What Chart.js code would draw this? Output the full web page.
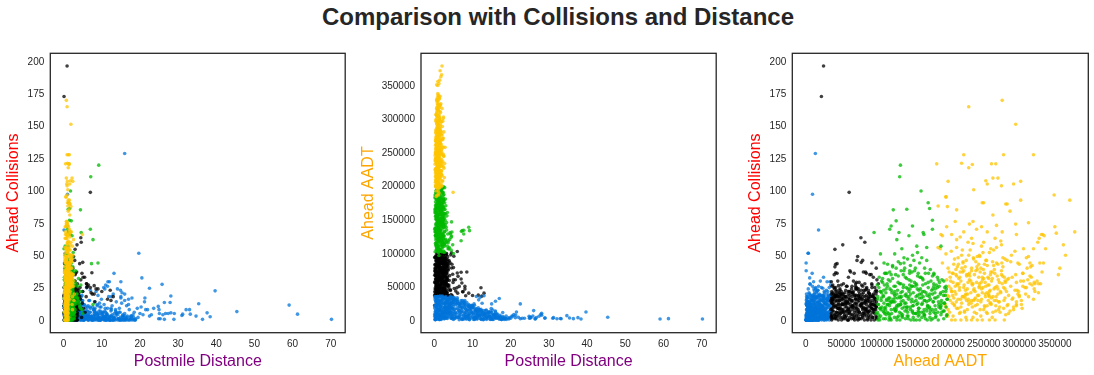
<!DOCTYPE html>
<html>
<head>
<meta charset="utf-8">
<title>Comparison with Collisions and Distance</title>
<script src="https://cdn.jsdelivr.net/npm/chart.js@4/dist/chart.umd.js"></script>
<style>
    html, body { margin: 0; padding: 0; background: #fff; }
    body { position: relative; width: 1094px; height: 375px; overflow: hidden; }
    #title { position: absolute; left: 0; top: 2px; width: 1116px; text-align: center;
             font: bold 24px "Liberation Sans", sans-serif; color: #262626; line-height: 30px; }
    canvas { position: absolute; top: 0; }
</style>
</head>
<body>
<div id="title">Comparison with Collisions and Distance</div>
<canvas id="chart1" width="347" height="375" style="left:0px"></canvas>
<canvas id="chart2" width="363" height="375" style="left:355px"></canvas>
<canvas id="chart3" width="350" height="375" style="left:742px"></canvas>
<script>
const distTicks = [0, 10, 20, 30, 40, 50, 60, 70];
const collTicks = [0, 25, 50, 75, 100, 125, 150, 175, 200];
const aadtTicks = [0, 50000, 100000, 150000, 200000, 250000, 300000, 350000];

const blueDist = [
    0.2,2.6,0.9,3.4,1.6,4.4,0.5,2.0,1.2,3.0,
    3.1,0.3,2.8,1.0,3.6,1.7,4.7,0.6,2.2,1.3,
    1.4,3.3,0.1,2.5,1.1,3.9,1.9,5.0,0.7,2.4,
    2.7,1.5,3.7,0.4,2.9,0.8,4.1,1.8,4.9,0.2,
    0.6,2.3,1.2,4.0,0.3,3.2,1.0,4.5,2.1,5.2,
    4.3,0.8,2.1,1.4,3.5,0.1,2.7,0.9,3.8,1.6,
    1.8,4.6,0.5,2.2,1.3,3.0,0.3,2.6,1.1,4.2,
    3.4,1.2,4.8,0.7,2.4,1.5,3.6,0.4,2.9,0.9,
    0.4,3.6,1.7,4.4,0.9,2.8,1.4,3.1,0.2,2.0,
    2.2,0.6,3.0,1.9,4.1,0.5,2.3,1.2,3.3,0.8,
    1.1,2.9,0.3,3.5,0.7,1.6,4.0,0.5,1.9,2.6,
    5.2,5.6,6.1,6.5,7.0,5.4,5.9,6.3,6.8,7.3,
    7.5,7.9,8.3,8.8,9.2,7.7,8.1,8.6,9.0,9.5,
    9.7,10.1,10.6,11.0,11.5,9.9,10.4,10.8,11.3,11.8,
    12.0,12.4,12.9,13.3,13.8,12.2,12.7,13.1,13.6,14.1,
    14.3,14.8,15.2,15.7,16.1,14.6,15.0,15.5,16.0,16.5,
    16.8,17.2,17.6,18.0,18.5,17.0,17.4,18.2,18.8,19.3,
    10.5,11.0,11.6,12.0,11.5,10.8,12.5,13.0,14.9,15.3,
    15.0,16.0,16.0,17.0,17.9,5.0,6.0,7.0,8.5,9.0,
    70.2,61.3,59.1,45.4,39.7,38.4,37.6,36.4,35.4,34.7,
    33.2,33.0,32.1,31.2,31.0,29.0,28.9,28.1,28.1,27.9,
    27.4,26.7,26.4,26.4,26.0,25.8,25.3,25.1,24.9,24.8,
    25.0,23.6,23.0,22.5,22.5,22.0,21.5,21.3,21.2,20.5,
    20.0,20.3,19.7,19.5,20.8,16.0,15.0,13.2,1.0,0.1,
    0.4,0.2,0.3,0.8,0.5,0.6,0.3,0.9,1.1,1.5,
    3.5,4.2,5.0,5.8,6.6,7.4,8.2,9.0,9.8,10.6,
    11.4,12.2,13.0,13.8,14.6,15.4,16.2,4.6,5.4,6.2,
    7.0,7.8,8.6,9.4,10.2,11.0,11.8,12.6,13.4,14.2,
    15.0,15.8,16.6,17.4,3.8,4.8,5.6,6.4,7.2,8.0,
    8.8,9.6,10.4,11.2,12.0,12.8,13.6,14.4,15.2,16.0,
    5.2,6.0,6.8,7.6,8.4,9.2,10.0,10.8,11.6,12.4,
    3.2,4.0,4.4,5.0,5.4,6.6,7.3,8.1,9.3,10.3,
    2.5,3.6,3.0,4.3,2.8,3.4,4.6,3.9,4.1,5.3,
    6.5,7.8,9.1,11.1,13.2,14.7,16.4,17.8,18.4,18.9,
    0.2,0.4,0.7,1.0,1.3,1.6,2.0,2.3,2.7,3.0,
    5.6,6.9,8.2,9.5,10.9,12.3,13.9,15.6,6.1,7.7,
    3.0,4.0,5.0,6.0,7.0,8.0,9.0,10.0,11.0,12.0,
    3.1,3.5,3.9,4.3,4.7,5.1,5.5,5.9,6.3,6.7,
    7.1,7.5,7.9,8.3,8.7,9.1,9.5,9.9,10.3,10.7,
    11.1,11.5,11.9,12.3,12.7,13.1,13.5,13.9,14.3,14.7,
    3.3,3.7,4.1,4.5,4.9,5.3,5.7,6.1,6.5,6.9,
    7.3,7.7,8.1,8.5,8.9,9.3,9.7,10.1,10.5,10.9,
    11.3,11.7,12.1,12.5,12.9,13.3,13.7,14.1,14.5,14.9,
    15.1,15.5,15.9,16.3,16.7,17.1,17.5,17.9,18.3,18.7,
    4.0,4.8,5.6,6.4,7.2,8.0,8.8,9.6,10.4,11.2,
    5.0,5.8,6.6,7.4,8.2,9.0,9.8,10.6,11.4,12.2,
    0.3,0.8,1.3,1.8,2.3,2.8,3.3,3.8,4.3,4.8,
    0.5,1.0,1.5,2.0,2.5,3.0,3.5,4.0,4.5,5.0,
    0.6,1.1,1.6,2.1,2.6,3.1,3.6,4.1,4.6,0.3,
    0.7,1.2,1.7,2.2,2.7,3.2,3.7,4.2,0.4,0.9,
    1.4,1.9,2.4,2.9,3.4,3.9,4.4,4.9,0.2,0.6,
    1.0,1.5,2.0,2.5,3.0,3.5,4.0,4.5,0.1,2.1
];
const blueColl = [
    0,0,1,0,0,1,0,0,1,0,
    2,1,2,3,1,2,2,1,3,2,
    4,3,4,3,5,4,3,4,3,4,
    6,5,6,5,6,7,5,6,5,6,
    8,7,8,9,7,8,7,8,9,7,
    10,9,10,11,9,10,11,9,10,9,
    12,11,12,13,11,12,11,13,12,11,
    14,13,15,14,13,14,15,13,14,13,
    16,17,15,16,17,16,15,16,17,15,
    18,19,18,17,19,18,19,17,18,16,
    20,21,19,20,22,20,19,21,20,18,
    2,6,1,4,9,12,3,7,15,2,
    1,8,3,11,5,0,14,6,2,10,
    0,6,12,3,9,16,1,7,4,18,
    2,9,0,5,14,3,11,1,7,24,
    1,6,13,3,0,9,17,2,5,11,
    0,8,3,1,6,12,2,4,0,9,
    25,27,29.5,29.5,26,24,18,20,23,21,
    18,20,15,16,17,22,25,23,22,19,
    0.5,4.5,11.5,6.5,22.5,2.5,5.5,0.5,12.5,3,
    4.5,8,8,4.5,3.5,5,0.5,18.5,5.5,13.5,
    5,5,13.5,0.5,4,27.5,1,5,1,10.5,
    8,9,4,24.5,3,8,8,17,14,32.5,
    5,10,51.5,2,4,128.5,29.5,36,97,69.5,
    51.5,44,38,33,30,28,26,25,24,23,
    3,12,6,1,15,0,9,2,5,1,
    4,0,2,6,0,3,1,18,0,10,
    2,8,0,13,1,6,0,3,1,4,
    1,0,2,0,16,3,11,4,0,5,
    1,7,3,0,2,0,8,1,0,3,
    0,2,6,10,1,0,4,0,1,7,
    0,1,0,2,4,0,3,0,2,5,
    0,0,1,0,2,1,4,1,7,0,
    0,1,0,3,0,0,1,3,0,1,
    6,2,10,14,7,17,4,11,8,18,
    1,2,4,0,2,0,5,0,2,1,
    5,3,2,1,6,3,2,1,0,0,
    0,2,1,4,0,3,1,5,0,2,
    1,0,3,1,5,0,2,1,6,2,
    0,3,1,0,4,2,0,5,1,0,
    4,1,6,2,8,0,3,7,1,10,
    3,0,8,1,4,7,0,2,0,9,
    5,1,0,8,0,1,3,0,6,2,
    0,4,1,0,3,0,1,0,2,0,
    9,13,5,11,2,7,12,0,3,1,
    15,9,3,1,6,4,10,1,0,2,
    1,3,5,7,9,11,13,15,17,19,
    12,14,16,18,2,4,6,8,10,12,
    19,3,11,13,15,17,0,2,12,8,
    8,10,14,16,18,6,9,7,13,15,
    18,20,16,12,14,10,4,0,5,7,
    9,15,13,17,19,16,12,6,11,2
];
const blueAadt = [
    900,4300,7800,11500,15200,18700,22300,25900,29400,33000,
    2500,6100,9700,13200,16900,20400,24100,27700,31300,35200,
    600,4800,8200,11900,15600,19300,22800,26500,30100,33900,
    2100,5700,9300,12900,16500,20100,23700,27300,30800,34400,
    1100,4500,8000,11700,15300,18900,22500,26200,29800,33400,
    2800,6400,10000,13600,17200,20800,24400,28000,31600,35600,
    800,4200,7700,11300,15000,18600,22100,25800,29300,33200,
    2300,5900,9500,13100,16700,20300,23900,27500,31100,34800,
    1300,4900,8500,12100,15700,19500,23100,26700,30300,33700,
    2700,6300,9900,13500,17100,20700,24300,27900,31500,35000,
    1000,4600,8100,11800,15400,19000,22600,26300,29900,33300,
    15000,3000,28000,9000,21000,31000,6000,24000,12000,18000,
    12000,23000,2000,17000,7000,26000,4500,14500,9500,19500,
    9500,18000,1500,13500,5500,21000,3500,11500,7500,15500,
    7000,14000,1000,10000,4000,16000,2500,8500,5500,11500,
    5500,11000,800,8000,3000,13000,2000,6500,4000,9000,
    3500,7000,600,5000,2000,1200,4200,2500,6000,3000,
    22000,35000,30000,34000,18000,14000,25000,36000,17000,15000,
    24000,12000,28000,32000,11000,31000,33000,29000,26000,20000,
    1500,2000,1500,4000,12000,1500,3500,2000,3000,6500,
    1800,2200,1800,3500,2500,3000,2800,10000,7000,8500,
    5500,3500,2000,1500,14000,6000,3500,4500,2500,5500,
    3000,2500,2500,24000,1800,4000,12000,7500,3500,5500,
    2500,6000,3500,1500,8000,13500,11000,9000,9500,18000,
    3500,500,600,25000,20500,6000,9500,14000,3500,17000,
    26000,12000,30000,4000,20000,1000,16000,8000,22000,3000,
    11000,1500,14000,5000,800,7500,2500,18000,8000,25000,
    3000,27000,6000,19000,1000,16000,5000,9000,2000,12000,
    1500,9000,4500,2000,32000,6000,23000,14000,1000,29000,
    4000,12000,24000,2000,8500,500,15000,6000,2500,5000,
    2000,11000,17000,7000,13000,500,21000,4000,12500,6500,
    9000,15000,3000,23000,11000,6000,19000,10000,15500,8000,
    5000,18000,24000,7500,29000,13000,33000,21000,28000,16000,
    500,1500,3000,7000,10000,3500,6500,1500,3000,1000,
    12000,21000,29000,16000,5000,25000,10000,33000,19000,13500,
    30000,24000,21000,18000,15000,12500,9500,8000,27500,22500,
    35000,34000,33000,31000,26500,25000,23000,19000,17000,14000,
    14000,31000,6000,22000,2000,27000,10000,18000,4000,24000,
    12000,2500,19000,8000,22000,1000,15000,5000,18000,9000,
    3500,13000,7000,1000,11000,5000,14000,2500,8500,1500,
    28000,11000,20000,33000,13000,5000,29000,16000,21000,8000,
    25000,6500,16500,1500,12500,21500,3500,10000,700,14000,
    9500,15500,2000,12000,6000,8000,1000,11000,5000,3500,
    7000,1000,4000,9000,2500,5500,1200,3500,700,2200,
    9000,17000,26000,3500,14500,11000,6000,17500,13000,1500,
    1000,24000,13500,29000,5000,20000,12000,4000,7500,10500,
    3000,7000,11000,15000,19000,23000,27000,31000,35000,26000,
    21000,25000,30000,34000,2000,6000,9500,13000,17000,20000,
    32000,28000,1500,5500,10500,14500,18500,22500,8000,35000,
    19000,23500,3500,7500,12500,16500,20500,24500,28500,32500,
    1200,5200,9200,13200,17200,21200,25200,29200,33200,10200,
    3800,7800,11800,15800,19800,23800,27800,31800,5200,35500
];

const greenDist = [
    0.2,1.2,2.3,0.6,1.7,2.8,0.9,2.0,0.4,1.4,2.5,0.7,1.9,
    1.4,2.5,0.7,1.9,0.3,1.1,2.2,0.5,1.6,2.7,0.8,2.1,1.0,
    2.7,0.8,2.1,1.0,0.2,1.3,2.4,0.6,1.8,0.3,1.2,2.3,0.6,
    0.5,1.6,3.0,0.9,2.0,0.4,1.4,2.6,0.7,1.9,0.2,1.1,2.2,
    1.8,3.4,1.2,2.3,0.6,1.7,2.8,0.9,2.0,0.4,1.4,2.5,0.7,
    3.8,0.3,1.1,2.2,0.5,1.6,2.7,0.8,2.1,1.0,0.2,1.3,2.4,
    1.1,2.2,3.2,1.6,2.7,0.8,2.1,1.0,0.2,1.3,2.4,0.6,1.8,
    0.8,2.1,1.0,3.5,1.3,2.4,0.6,1.8,0.3,1.2,2.3,0.6,1.7,
    2.4,0.6,1.8,0.3,1.2,2.3,0.6,1.7,2.8,0.9,2.0,0.4,1.4,
    0.9,2.0,0.4,1.4,2.5,0.7,1.9,0.2,1.1,2.2,0.5,1.6,2.7,
    1.6,0.5,2.9,1.3,0.8,2.1,1.0,1.7,0.2,1.4,2.4,0.6,1.2,
    9.2,7.1,1.8,1.3,1.6,1.5,4.4,1.2,0.9,7.0,
    2.0,4.6,7.7,1.2,0.8,2.2,1.4,1.0,2.5,1.7,
    9.0,7.3,7.7,4.5,3.2,4.2,4.5,4.0,3.6,4.8,
    3.9,4.4,3.4,5.0,3.0,3.3,2.9,3.7,3.1,4.1,
    1.0,2.1,0.5,1.6,2.4,0.8,1.3,0.1,2.0,1.1,
    1.7,0.4,2.2,1.2,0.7,1.9,1.4,0.9,2.3,0.5,
    2.6,1.5,0.5,1.1,2.0,0.7,1.6,2.4,1.0,0.4,
    0.7,1.8,0.4,2.2,1.1,0.6,1.6,0.3,2.4,1.0,
    1.5,0.8,2.0,0.5,1.3,2.6,0.9,1.7,0.4,1.2,
    2.1,0.6,1.4,0.9,2.4,1.0,1.9,0.3,1.5,0.7,
    2.2,1.1,0.5,1.8,0.8,1.3,0.4,1.6,0.7,2.3,
    1.0,0.2,1.5,0.9,2.0,0.6,1.2,1.7,0.5,1.1,
    0.6,1.4,2.1,0.4,1.0,1.8,0.7,1.3,0.9,1.5,
    1.3,0.4,1.9,0.8,1.1,2.0,0.5,1.6,1.0,0.3,
    2.7,1.0,0.3,1.6,2.3,0.8,1.4,0.6,1.7,1.2,
    0.9,1.6,0.5,2.4,1.2,0.3,1.8,0.7,1.1,0.2,
    3.6,3.0,2.6,3.2,2.8,2.4,2.9,2.5,2.3,2.1,
    1.5,0.8,2.1,1.2,0.4,1.9,0.7,2.5,1.1,1.6,
    0.6,1.3,1.8,0.9,2.2,1.5,0.3,1.7,0.8,2.4,
    1.4,2.0,0.7,1.1,1.6,1.9,0.5,1.3,2.3,0.9,
    0.4,1.5,2.2,1.0,0.6,1.8,2.1,1.3,0.7,2.6
];
const greenColl = [
    0,1,0,2,0,1,0,0,2,0,1,0,1,
    3,4,5,2,4,3,5,4,3,5,2,4,3,
    6,7,5,8,6,7,8,5,6,7,8,6,7,
    9,10,8,11,9,10,11,9,8,10,11,9,10,
    12,13,11,14,12,13,14,12,13,11,14,12,13,
    15,16,14,17,15,16,14,17,15,16,17,15,16,
    18,19,17,20,18,19,20,18,17,19,20,18,19,
    22,21,23,20,22,24,21,23,22,20,24,21,22,
    25,27,24,26,28,25,26,24,27,25,28,26,25,
    30,28,32,29,27,31,29,33,28,30,27,31,26,
    33,36,30,35,38,32,37,34,31,36,35,29,30,
    119.5,110.5,99.5,90.5,86,77,85,85.5,72.5,70,
    76.5,67.5,62,67.5,72.5,65,67.5,70,52,66,
    44,43.5,12,27,18,10,22,14,26,8,
    32,9,20,5,14,28,6,17,38,12,
    51,44,43,37,41,51,45,55,40,47,
    42,50,38,57,44,48,40,56,39,36,
    36,35,40,35,38,46,36,36,33,57,
    2,5,1,8,3,6,2,9,4,7,
    3,6,10,12,14,11,13,10,15,12,
    11,14,10,13,16,18,15,19,17,20,
    16,19,18,15,17,20,16,22,24,21,
    23,25,22,26,24,21,23,25,22,27,
    29,31,26,28,33,30,27,32,29,26,
    0,1,0,0,2,1,0,0,1,0,
    6,4,7,5,8,6,7,4,9,5,
    36,42,34,48,36,40,33,46,34,31,
    17,12,9,14,18,7,3,22,11,19,
    4,9,13,7,18,3,11,6,15,2,
    8,13,4,21,6,16,3,10,24,5,
    20,9,24,14,7,12,23,2,17,21,
    10,26,13,6,18,21,10,24,8,15
];
const greenAadt = [
    101500,109200,116900,124600,132300,140000,147700,155400,163100,170800,178500,186200,193900,
    105300,113000,120700,128400,136100,143800,151500,159200,166900,174600,182300,190000,197700,
    100800,108600,116200,124100,131700,139400,147200,154700,162500,170100,177900,185600,193200,
    104700,112300,120100,127800,135500,143200,150900,158600,166300,174000,181700,189400,197100,
    102200,109900,117600,125300,133000,140700,148400,156100,163800,171500,179200,186900,194600,
    106000,113700,121400,129100,136800,144500,152200,159900,167600,175300,183000,190700,198400,
    101100,108800,116500,124200,131900,139600,147300,155000,162700,170400,178100,185800,193500,
    104900,112600,120300,128000,135700,143400,151100,158800,166500,174200,181900,189600,196800,
    102800,110500,118200,125900,133600,141300,149000,156700,164400,172100,179800,187500,195200,
    106600,114300,122000,129700,137400,145100,152800,160500,168200,175900,183600,191300,197000,
    103200,110900,118600,126300,134000,141700,149400,157100,164800,172500,180200,187900,194000,
    133000,132000,162000,172000,174000,178000,123000,142000,120000,118000,
    127000,131000,128000,96000,150000,145000,165000,178000,157000,166000,
    138000,133000,133500,146000,145000,128000,125000,120000,115000,112000,
    108000,104000,160000,99000,170000,155000,180000,118000,138000,130000,
    105000,110000,115000,118000,122000,125000,130000,135000,139000,143000,
    147000,150000,153000,156000,160000,163000,167000,170000,175000,180000,
    112000,120000,127000,137000,146000,152000,158000,168000,185000,190000,
    103000,111000,119000,127000,135000,143000,151000,159000,167000,175000,
    183000,191000,107000,115000,123000,131000,139000,147000,155000,163000,
    171000,179000,187000,195000,101000,109000,117000,125000,133000,141000,
    149000,157000,165000,173000,181000,189000,199000,105000,113000,121000,
    129000,137000,145000,153000,161000,169000,177000,185000,193000,100500,
    108000,116000,124000,132000,140000,148000,156000,164000,172000,180000,
    104000,112000,120000,128000,136000,144000,152000,160000,168000,176000,
    110000,118000,126000,134000,142000,150000,158000,166000,174000,182000,
    114000,122000,130000,138000,146000,154000,162000,170000,178000,186000,
    106000,115000,125000,134000,142000,150000,158000,164000,190000,196000,
    102500,110500,118500,126500,134500,142500,150500,158500,166500,174500,
    182500,190500,198500,106500,114500,122500,130500,138500,146500,154500,
    162500,170500,178500,186500,194500,101500,109500,117500,125500,133500,
    141500,149500,157500,165500,173500,181500,189500,197500,105500,113500
];

const blackDist = [
    0.1,1.4,2.6,0.6,1.9,3.1,0.9,2.3,0.3,1.6,2.9,0.7,2.0,1.1,
    2.9,0.7,2.0,1.1,0.2,1.3,2.7,0.5,1.8,3.2,1.0,2.4,0.4,1.5,
    1.0,2.4,0.4,1.5,2.8,0.8,2.1,1.2,0.1,1.5,2.5,0.6,1.9,3.0,
    2.5,0.6,1.9,3.0,0.9,2.2,0.3,1.7,2.9,0.7,2.0,1.1,0.2,1.3,
    2.0,1.1,0.2,1.3,2.7,0.5,1.8,3.2,1.0,2.4,0.4,1.5,2.8,0.8,
    0.4,1.5,2.8,0.8,2.1,1.2,0.1,1.4,2.6,0.6,1.9,3.1,0.9,2.3,
    1.9,3.0,0.9,2.2,0.3,1.7,2.9,0.7,2.0,1.1,0.2,1.3,2.7,0.5,
    0.2,1.3,2.7,0.5,1.8,3.2,1.0,2.4,0.4,1.5,2.8,0.8,2.1,1.2,
    2.8,0.8,2.1,1.2,0.1,1.4,2.6,0.6,1.9,3.1,0.9,2.3,0.3,1.6,
    0.9,2.3,0.3,1.6,2.9,0.7,2.0,1.1,0.2,1.3,2.7,0.5,1.8,3.2,
    2.7,0.5,1.8,3.2,1.0,2.4,0.4,1.5,2.8,0.8,2.1,1.2,0.1,1.4,
    0.9,0.1,7.0,4.5,4.6,5.0,3.0,3.5,4.2,0.4,
    7.4,2.4,3.0,4.8,5.5,6.5,8.0,0.5,0.1,3.5,
    6.0,7.0,8.5,5.0,6.2,7.2,8.0,9.0,10.0,12.2,
    13.0,11.5,12.4,7.5,8.2,6.1,4.5,6.0,5.1,4.2,
    1.2,2.2,3.0,0.8,1.7,2.6,3.4,0.6,2.0,3.2,
    1.5,2.8,0.9,3.6,2.2,1.1,3.9,2.5,1.3,4.3,
    3.8,4.4,5.2,4.0,5.6,4.9,3.6,4.7,5.9,4.1,
    2.1,1.0,2.6,1.4,3.1,0.8,1.7,2.4,2.9,1.2,
    1.7,2.8,0.5,3.3,1.2,2.2,0.7,3.6,1.5,2.5,
    3.4,1.0,2.5,0.3,3.0,1.6,2.3,0.8,1.9,3.7,
    0.6,2.0,3.5,1.3,0.4,2.6,3.3,1.8,0.7,2.2,
    2.4,3.8,0.9,1.7,2.9,0.2,1.4,3.0,2.0,1.1,
    3.1,0.5,2.3,3.9,1.1,1.9,0.6,2.7,3.5,1.5,
    1.6,2.6,0.3,3.2,2.1,3.7,0.9,1.2,2.5,3.6,
    2.9,1.3,3.3,0.7,1.5,2.4,3.1,0.4,1.8,2.7,
    0.8,3.5,1.9,2.8,1.0,2.2,3.0,1.7,2.3,3.2,
    0.4,2.1,1.3,3.0,0.7,2.5,1.7,0.2,2.9,1.4,
    1.8,0.6,2.7,1.1,3.4,0.3,2.2,1.5,0.9,3.1,
    2.3,1.2,0.5,2.8,1.6,3.3,0.8,2.0,3.5,1.0,
    3.2,0.9,1.9,0.4,2.4,1.4,3.6,1.1,2.6,0.6,
    1.5,3.7,0.7,2.1,1.0,2.9,0.4,3.4,1.7,2.4,
    2.7,0.6,3.1,1.9,0.3,3.4,1.2,2.2,0.8,3.8
];
const blackColl = [
    0,1,0,0,1,0,1,0,0,1,0,1,0,0,
    2,3,2,1,3,2,2,3,1,2,3,2,2,3,
    5,4,5,6,4,5,4,6,5,4,5,5,4,6,
    7,6,8,7,7,6,8,7,6,8,7,7,6,8,
    9,10,9,8,10,9,10,9,8,10,9,10,9,8,
    12,11,11,12,10,12,11,12,11,10,12,11,12,11,
    13,14,13,12,14,13,14,13,14,12,13,14,13,14,
    16,15,15,16,14,16,15,16,15,16,14,16,15,16,
    17,18,17,16,18,17,18,17,18,16,18,17,18,17,
    20,19,19,20,18,19,20,19,20,18,19,20,19,20,
    21,22,21,20,23,22,21,24,22,20,23,21,25,22,
    196,172.5,98.5,63.5,60,44.5,54.5,58,43.5,43,
    36.5,36,35,36,33,27,26.5,29.5,19,0,
    28,25,24,22,26,21,20,24,22,23,
    18,16,15,20,14,25,31,28,33,18,
    27,25,30,24,28,26,37,30,26,24,
    29,23,26,28,24,37,23,35,27,25,
    12,16,9,21,6,13,24,2,18,8,
    38,46,49,37,36,35,44,40,46,41,
    1,3,2,0,4,1,3,0,2,1,
    4,6,3,5,2,6,4,7,5,3,
    7,9,6,8,10,7,9,6,8,10,
    11,9,12,10,13,11,9,12,10,8,
    13,15,12,14,11,16,13,15,12,14,
    17,15,18,16,19,17,15,18,16,17,
    19,21,18,20,22,19,21,18,20,22,
    23,22,26,24,29,27,25,28,23,26,
    3,1,5,2,7,4,1,6,3,8,
    10,12,8,14,11,9,13,16,10,12,
    15,19,17,13,21,16,18,14,20,17,
    2,4,6,8,1,3,5,7,9,2,
    11,9,13,7,15,10,12,8,14,11,
    18,20,16,22,19,17,23,21,18,20
];
const blackAadt = [
    36500,41100,45700,50300,54900,59500,64100,68700,73300,77900,82500,87100,91700,96300,
    38800,43400,48000,52600,57200,61800,66400,71000,75600,80200,84800,89400,94000,98600,
    36100,40900,45300,50100,54700,59200,63900,68400,73000,77600,82200,86900,91400,96000,
    38500,43100,47700,52300,56900,61500,66100,70700,75300,79900,84500,89100,93700,98300,
    37000,41600,46200,50800,55400,60000,64600,69200,73800,78400,83000,87600,92200,96800,
    39200,43800,48400,53000,57600,62200,66800,71400,76000,80600,85200,89800,94400,99000,
    36800,41300,45900,50600,55100,59800,64300,68900,73600,78100,82800,87300,91900,96500,
    38200,42900,47400,52100,56600,61200,65900,70400,75000,79700,84200,88900,93400,98000,
    37400,41900,46600,51100,55800,60300,65000,69500,74200,78700,83400,87900,92600,97100,
    39000,43600,48200,52800,57400,62000,66600,71200,75800,80400,85000,89600,94200,98800,
    37800,42400,47000,51600,56200,60800,65400,70000,74600,79200,83800,88400,93000,97600,
    25000,22000,61000,77500,83000,78000,41000,52000,44000,42000,
    42000,44000,40000,68000,60000,50000,46000,36000,42000,60000,
    70000,71000,71500,60000,65000,55000,50000,40000,36500,48000,
    40000,37000,35500,42000,36000,40000,100000,102000,95000,45000,
    38000,42000,45000,48000,53000,58000,63000,67000,70000,72000,
    75000,78000,80000,83000,85000,81000,88000,90000,93000,97000,
    52000,38000,47000,66000,43000,56000,74000,36000,48000,85000,
    62000,72000,73000,84000,85000,92000,93000,99000,80000,41000,
    37200,44300,51400,58500,65600,72700,79800,86900,94000,99500,
    40100,47200,54300,61400,68500,75600,82700,89800,96900,36000,
    38000,45100,52200,59300,66400,73500,80600,87700,94800,99000,
    42000,49100,56200,63300,70400,77500,84600,91700,98800,35500,
    37500,44600,51700,58800,65900,73000,80100,87200,94300,99400,
    41000,48100,55200,62300,69400,76500,83600,90700,97800,36500,
    38500,45600,52700,59800,66900,74000,81100,88200,95300,99800,
    43000,50100,57200,64300,71400,78500,85600,92700,99000,37000,
    36300,42800,49300,55800,62300,68800,75300,81800,88300,94800,
    39500,46000,52500,59000,65500,72000,78500,85000,91500,98000,
    37800,44300,50800,57300,63800,70300,76800,83300,89800,96300,
    41200,47700,54200,60700,67200,73700,80200,86700,93200,99700,
    38300,44800,51300,57800,64300,70800,77300,83800,90300,96800,
    42700,49200,55700,62200,68700,75200,81700,88200,94700,35800
];

const yellowDist = [
    0.3,0.8,1.1,0.5,0.9,0.4,1.2,0.7,0.5,0.9,
    0.9,0.4,1.2,0.7,0.2,1.0,0.6,1.3,0.8,0.5,
    0.6,1.1,0.3,0.9,1.2,0.5,1.0,0.4,0.7,1.1,
    1.1,0.4,0.8,1.3,0.5,1.0,0.3,0.8,1.2,0.4,
    0.7,1.2,0.2,0.9,0.6,1.3,0.8,0.4,1.0,0.8,
    0.4,0.9,1.2,0.2,1.0,0.7,1.3,0.5,0.9,0.4,
    1.0,0.5,0.8,1.2,0.3,0.9,0.5,1.1,0.7,0.6,
    0.3,1.1,1.9,0.7,2.5,1.2,0.5,1.6,0.9,1.3,
    2.2,0.6,1.5,1.0,0.3,1.8,1.2,0.7,1.4,0.8,
    1.2,2.0,0.5,1.6,0.9,2.3,0.4,1.3,1.7,1.0,
    0.7,1.7,2.4,0.3,1.4,0.8,1.9,1.1,0.6,1.3,
    1.9,0.9,1.2,0.5,2.1,1.5,0.7,1.0,1.4,0.8,
    0.5,1.6,0.8,2.2,1.2,0.4,1.8,0.9,1.3,0.7,
    1.4,0.3,1.9,1.0,0.6,1.5,2.0,0.9,1.1,1.3,
    0.7,1.2,0.4,1.7,1.0,2.3,0.6,1.4,0.9,1.1,
    1.0,0.5,1.6,1.3,0.8,1.9,0.4,1.2,0.7,1.5,
    1.3,0.7,1.8,0.9,1.5,0.5,1.1,1.6,0.8,1.0,
    1.1,0.6,1.4,0.8,0.4,1.6,1.2,0.7,1.0,0.9,
    0.7,0.9,1.9,0.9,1.2,1.5,1.0,0.5,1.3,1.5,
    1.2,1.4,1.0,0.8,0.7,2.2,1.8,0.9,1.6,2.4,
    1.1,0.6,1.9,1.4,1.0,1.7,1.5,1.2,0.9,1.5,
    2.0,1.9,1.7,1.4,0.9,1.2,0.6,0.8,1.0,0.9,
    0.7,1.1,1.5,0.5,2.3,1.3,1.0,1.7,2.0,0.6,
    4.9,2.8,2.5,2.5,2.2,2.4,2.6,2.3,2.7,2.1,
    1.1,0.5,1.7,0.9,0.9,0.4,1.3,0.8,0.6,1.0,
    1.0,0.8,0.9,0.6,1.2,1.9,0.5,1.4,1.1,0.3,
    0.4,0.7,1.0,1.1,0.7,1.6,0.9,0.3,1.0,1.2,
    0.8,0.7,0.5,0.9,1.1,0.4,2.4,1.5,0.9,0.7,
    0.8,1.0,1.2,0.3,0.9,1.0,0.6,1.3,1.9,0.5,
    1.4,0.9,1.1,0.7,0.7,0.2,1.1,0.8,0.6,1.2,
    0.5,1.0,1.5,0.7,1.2,0.9,1.6,0.6,1.1,0.8,
    0.9,1.3,0.8,1.5,1.0,0.6,1.2,1.1,0.7,0.4,
    0.7,0.6,1.3,0.4,1.0,1.6,0.7,1.2,1.0,0.6,
    2.1,0.6,0.5,1.4,0.8,0.8,1.0,0.4,0.7,0.9,
    1.7,0.6,1.4,0.9,1.8,1.1,0.7,1.5,0.8,1.2,
    0.9,1.3,1.6,2.0,0.7,1.8,1.0,0.5,1.5,0.8,
    1.2,0.8,0.6,0.4,1.9,0.9,1.4,2.1,0.6,1.0,
    0.5,1.9,1.1,0.7,0.3,1.6,0.8,1.3,0.5,1.7,
    1.0,1.6,0.4,0.8,1.3,0.7,1.0,0.6,2.2,1.4
];
const yellowColl = [
    0,0,0,0,0,0,0,0,0,0,
    4,3,5,2,6,3,5,2,6,4,
    8,9,7,10,8,6,11,9,7,10,
    12,11,13,14,12,11,13,14,12,11,
    15,16,17,15,16,18,15,17,16,15,
    19,20,18,21,19,20,18,21,19,20,
    22,23,24,22,25,23,24,22,23,25,
    26,27,25,28,26,27,25,28,26,27,
    29,30,31,29,32,30,29,31,30,28,
    33,32,34,35,33,32,34,33,29,31,
    36,37,35,38,36,37,35,33,36,41,
    40,39,41,38,40,42,39,41,43,44,
    44,43,45,47,43,46,44,47,44,49,
    51,48,50,49,52,54,48,53,29,44,
    56,55,56,54,59,57,55,56,58,55,
    65,66,64,60,63,60,63,61,48,66,
    72,76,68,74,70,68,73,68,66,60,
    88,95,85,76,72,81,84,74,75,55,
    169.5,164.5,151,127.5,127.5,127.5,121,120.5,120.5,120.5,
    117.5,120,107,105,109.5,109.5,107.5,103.5,105,107,
    100.5,95,87.5,90.5,90.5,89.5,89.5,92.5,96.5,92.5,
    68,50,58,40,35,67,72,66,65,55,
    30,42,25,36,18,28,44,22,34,63,
    66,20,35,30,12,50,62,8,15,45,
    6,17,28,38,12,23,33,8,19,42,
    24,35,10,20,30,45,14,26,37,7,
    31,13,41,18,8,27,39,21,11,32,
    18,47,25,6,36,16,28,43,22,15,
    10,22,34,50,15,40,5,24,46,17,
    26,6,19,54,11,37,29,13,20,24,
    14,25,32,17,23,12,20,28,24,28,
    3,38,46,50,35,19,26,40,33,11,
    5,8,22,30,18,16,21,37,14,9,
    36,9,44,29,2,15,52,33,6,43,
    30,14,40,20,48,25,10,35,18,44,
    19,43,27,34,17,29,21,45,31,15,
    37,22,16,46,28,19,39,27,36,22,
    12,33,23,13,41,31,15,24,10,29,
    53,28,37,16,24,49,18,12,26,34
];
const yellowAadt = [
    205000,210000,218000,226000,233000,241000,248000,258000,266000,279000,
    198000,207000,216000,225000,237000,246000,255000,262000,273000,281000,
    200000,212000,223000,234000,245000,254000,267000,278000,287000,292000,
    196000,209000,219000,229000,241000,251000,260000,271000,284000,296000,
    203000,214000,224000,236000,247000,258000,268000,280000,290000,303000,
    199000,211000,221000,232000,243000,252000,263000,274000,285000,298000,
    205000,216000,227000,238000,249000,259000,270000,282000,294000,308000,
    201000,213000,222000,235000,244000,256000,266000,276000,288000,318000,
    207000,218000,230000,240000,250000,261000,272000,283000,302000,322000,
    203000,215000,226000,237000,248000,257000,269000,279000,296000,312000,
    206000,217000,228000,239000,251000,262000,275000,290000,305000,316000,
    200000,211000,224000,233000,246000,255000,265000,277000,300000,315000,
    192000,208000,221000,236000,243000,253000,268000,280000,298000,313000,
    197000,214000,229000,241000,258000,264000,277000,294000,321000,329000,
    186000,189000,212000,220000,235000,247000,260000,268000,275000,306000,
    192000,205000,217000,228000,233000,250000,266000,274000,310000,333000,
    198000,210000,222000,230000,240000,255000,268000,276000,296000,326000,
    186000,197000,212000,235000,247000,263000,287000,295000,313000,320000,
    276000,229000,295000,222000,278000,320000,219000,184000,261000,267000,
    229000,234000,200000,255000,263000,270000,253000,275000,292000,302000,
    236000,197000,199000,248000,250000,281000,283000,302000,349000,371000,
    378000,365000,362000,357000,355000,352000,350000,331000,335000,337000,
    325000,318000,310000,305000,300000,330000,334000,322000,315000,328000,
    190000,257000,226000,280000,296000,244000,212000,271000,233000,288000,
    202000,208000,215000,222000,229000,236000,243000,250000,257000,264000,
    204000,211000,218000,225000,232000,239000,246000,253000,260000,267000,
    198000,206000,213000,220000,227000,234000,241000,248000,255000,262000,
    201000,209000,216000,223000,230000,237000,244000,251000,258000,265000,
    197000,205000,212000,219000,226000,233000,240000,247000,254000,261000,
    210000,217000,224000,231000,238000,245000,252000,259000,270000,280000,
    272000,278000,285000,291000,297000,303000,309000,315000,321000,327000,
    200000,275000,283000,289000,295000,300000,305000,311000,317000,283000,
    285000,292000,299000,306000,313000,320000,327000,332000,296000,304000,
    207000,214000,221000,228000,235000,242000,249000,256000,263000,270000,
    203500,211500,219500,227500,235500,243500,251500,259500,267500,275500,
    206500,214500,222500,230500,238500,246500,254500,262500,270500,278500,
    201500,209500,217500,225500,233500,241500,249500,257500,265500,273500,
    208500,216500,224500,232500,240500,248500,256500,264500,272500,280500,
    204500,212500,220500,228500,236500,244500,252500,260500,268500,276500
];

const blue = '#0074D9', green = '#00B800', black = '#000000', yellow = '#FFC400';

// keeps the frame around the whole plot, chart.js only draws two sides
const boxFrame = {
    id: 'boxFrame',
    afterDraw(chart) {
        const a = chart.chartArea;
        const c = chart.ctx;
        c.save();
        c.strokeStyle = '#262626';
        c.lineWidth = 1.3;
        c.strokeRect(a.left, a.top, a.right - a.left, a.bottom - a.top);
        c.restore();
    }
};

function pairs(xs, ys) {
    return xs.map((x, i) => ({ x: x, y: ys[i] }));
}

function axis(pos, ticks, min, max, label, labelColor, size) {
    return {
        type: 'linear',
        position: pos,
        min: min,
        max: max,
        grid: { display: false, drawTicks: false },
        border: { display: false },
        afterBuildTicks: s => { s.ticks = ticks.map(v => ({ value: v })); },
        afterFit: s => {
            if (pos === 'left') s.width = size; else s.height = size;
        },
        ticks: {
            padding: 6,
            maxRotation: 0,
            autoSkip: false,
            labelOffset: pos === 'left' ? 1 : 0,
            color: '#262626',
            font: { family: 'Liberation Sans', size: 10 },
            callback: v => String(v)
        },
        title: {
            display: true,
            text: label,
            color: labelColor,
            font: { family: 'Liberation Sans', size: 16 },
            padding: { top: 4, bottom: 4 }
        }
    };
}

// first set in the list ends up on top
function scatter(id, sets, xAxis, yAxis, right) {
    new Chart(document.getElementById(id), {
        type: 'scatter',
        data: {
            datasets: sets.map(s => ({
                data: pairs(s[0], s[1]),
                backgroundColor: s[2] + 'BF',
                borderWidth: 0,
                pointRadius: 1.8,
                pointHoverRadius: 1.8
            }))
        },
        options: {
            responsive: false,
            animation: false,
            layout: { padding: { top: 53.3, right: right, bottom: 0, left: 0 } },
            plugins: { legend: { display: false }, tooltip: { enabled: false } },
            scales: { x: xAxis, y: yAxis }
        },
        plugins: [boxFrame]
    });
}

const distRange = [-3.5, 73.8];
const collRange = [-9.8, 205.8];
const aadtRange = [-18900, 397000];
const purple = 'purple', orange = 'orange', red = 'red';

scatter('chart1',
    [[yellowDist, yellowColl, yellow], [greenDist, greenColl, green], [blackDist, blackColl, black], [blueDist, blueColl, blue]],
    axis('bottom', distTicks, distRange[0], distRange[1], 'Postmile Distance', purple, 42.3),
    axis('left', collTicks, collRange[0], collRange[1], 'Ahead Collisions', red, 50.3),
    1.7);
scatter('chart2',
    [[blueDist, blueAadt, blue], [yellowDist, yellowAadt, yellow], [greenDist, greenAadt, green], [blackDist, blackAadt, black]],
    axis('bottom', distTicks, distRange[0], distRange[1], 'Postmile Distance', purple, 42.3),
    axis('left', aadtTicks, aadtRange[0], aadtRange[1], 'Ahead AADT', orange, 66),
    1.3);
scatter('chart3',
    [[greenAadt, greenColl, green], [yellowAadt, yellowColl, yellow], [blackAadt, blackColl, black], [blueAadt, blueColl, blue]],
    axis('bottom', aadtTicks, aadtRange[0], aadtRange[1], 'Ahead AADT', orange, 42.3),
    axis('left', collTicks, collRange[0], collRange[1], 'Ahead Collisions', red, 50.3),
    3.7);
</script>
</body>
</html>
